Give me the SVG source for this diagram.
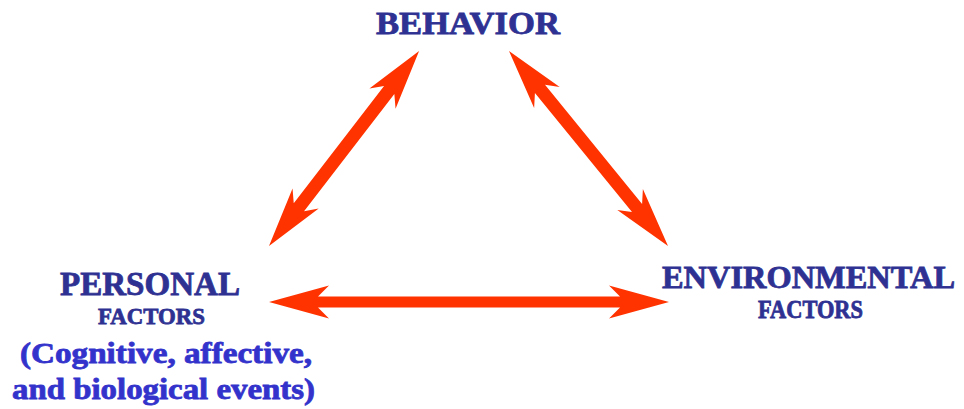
<svg xmlns="http://www.w3.org/2000/svg" width="964" height="409" viewBox="0 0 964 409">
<style>
.h{font-family:"Liberation Serif","Times New Roman",serif;font-weight:bold;fill:#2E3192;stroke:#2E3192;stroke-width:0.8}
.p{font-family:"Liberation Serif","Times New Roman",serif;font-weight:bold;fill:#3333CC;stroke:#3333CC;stroke-width:0.8}
.arr{fill:#FF3300}
</style>
<rect width="964" height="409" fill="#ffffff"/>
<g id="connectors">
<polygon class="arr" transform="translate(269,302)" points="0,0 60,-16.5 49,-5.5 351,-5.5 340,-16.5 400,0 340,16.5 351,5.5 49,5.5 60,16.5"/>
<polygon class="arr" transform="translate(269,246) rotate(-52.4)" points="0,0 60,-16.5 49,-6.5 197,-6.5 186,-16.5 246,0 186,16.5 197,6.5 49,6.5 60,16.5"/>
<polygon class="arr" transform="translate(509,51) rotate(50.8)" points="0,0 60,-16.5 49,-6.5 202.6,-6.5 191.6,-16.5 251.6,0 191.6,16.5 202.6,6.5 49,6.5 60,16.5"/>
</g>
<g id="behavior">
<text class="h" x="376" y="34" font-size="32" textLength="184" lengthAdjust="spacingAndGlyphs">BEHAVIOR</text>
</g>
<g id="personal">
<text class="h" x="60" y="295" font-size="33" textLength="180" lengthAdjust="spacingAndGlyphs">PERSONAL</text>
<text class="h" x="98" y="324" font-size="24" textLength="107" lengthAdjust="spacingAndGlyphs">FACTORS</text>
<text class="p" x="20" y="363" font-size="30" textLength="292" lengthAdjust="spacingAndGlyphs">(Cognitive, affective,</text>
<text class="p" x="12" y="399" font-size="30" textLength="303" lengthAdjust="spacingAndGlyphs">and biological events)</text>
</g>
<g id="environmental">
<text class="h" x="662" y="288" font-size="32" textLength="293" lengthAdjust="spacingAndGlyphs">ENVIRONMENTAL</text>
<text class="h" x="758" y="318" font-size="25" textLength="105" lengthAdjust="spacingAndGlyphs">FACTORS</text>
</g>
</svg>
